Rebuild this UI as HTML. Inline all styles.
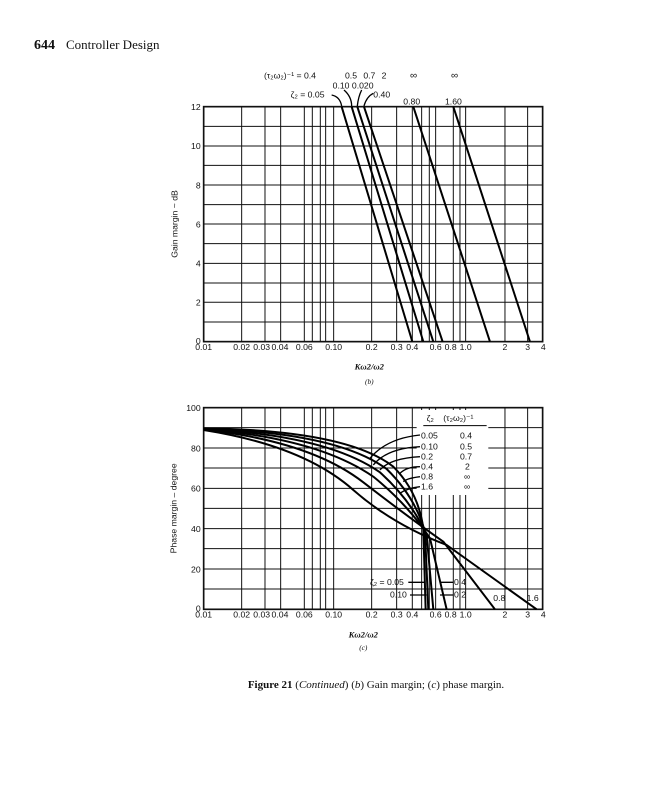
<!DOCTYPE html>
<html><head><meta charset="utf-8"><style>
body{margin:0;background:#fff;width:647px;height:800px;overflow:hidden}
svg{display:block}
text{font-family:"Liberation Sans",sans-serif;fill:#111}
.s{font-family:"Liberation Serif",serif}
</style></head><body>
<svg width="647" height="800" viewBox="0 0 647 800">
<text x="34" y="49" class="s" font-size="14" font-weight="bold">644</text>
<text x="66" y="49" class="s" font-size="13">Controller Design</text>

<!-- TOP CHART -->
<g transform="translate(160,60) scale(0.3333)">
 <g stroke="#111" stroke-width="3" fill="none">
  <rect x="131" y="140" width="1017" height="705" stroke-width="5"/>
  <path d="M131,199H1148M131,258H1148M131,316H1148M131,375H1148M131,434H1148M131,492H1148M131,551H1148M131,610H1148M131,669H1148M131,727H1148M131,786H1148"/>
  <path d="M245,140V845M315,140V845M362,140V845M433,140V845M457,140V845M481,140V845M497,140V845M521,140V845M635,140V845M710,140V845M757,140V845M785,140V845M808,140V845M827,140V845M880,140V845M900,140V845M917,140V845M1035,140V845M1103,140V845"/>
 </g>
 <g stroke="#000" stroke-width="6" fill="none">
  <path d="M545,140L757,845M575,140L790,845M592,140L820,845M612,140L848,845M760,140L990,845M880,140L1110,845"/>
  <path d="M515,105 Q540,110 545,138M552,90 Q575,110 575,138M605,90 Q595,110 592,138M640,100 Q620,110 612,138" stroke-width="4"/>
 </g>
 <g font-size="26">
  <text x="312" y="55">(τ₂ω₂)⁻¹ = 0.4</text><text x="555" y="55">0.5</text><text x="610" y="55">0.7</text><text x="665" y="55">2</text><text x="750" y="55" font-size="30">∞</text><text x="873" y="55" font-size="30">∞</text>
  <text x="518" y="85">0.10 0.020</text>
  <text x="392" y="112">ζ₂ = 0.05</text>
  <text x="640" y="112">0.40</text>
  <text x="730" y="133">0.80</text>
  <text x="855" y="133">1.60</text>
  <g text-anchor="end"><text x="122" y="150">12</text><text x="122" y="267">10</text><text x="122" y="385">8</text><text x="122" y="502">6</text><text x="122" y="620">4</text><text x="122" y="737">2</text><text x="122" y="852">0</text></g>
  <g text-anchor="middle"><text x="131" y="870">0.01</text><text x="245" y="870">0.02</text><text x="305" y="870">0.03</text><text x="360" y="870">0.04</text><text x="433" y="870">0.06</text><text x="521" y="870">0.10</text><text x="635" y="870">0.2</text><text x="710" y="870">0.3</text><text x="757" y="870">0.4</text><text x="827" y="870">0.6</text><text x="872" y="870">0.8</text><text x="917" y="870">1.0</text><text x="1035" y="870">2</text><text x="1103" y="870">3</text><text x="1150" y="870">4</text></g>
  <text x="628" y="928" text-anchor="middle" class="s" font-style="italic" font-weight="bold">Kω2/ω2</text>
  <text x="628" y="972" text-anchor="middle" class="s" font-style="italic" font-size="22">(b)</text>
  <text transform="translate(52,492) rotate(-90)" text-anchor="middle">Gain margin ~ dB</text>
 </g>
</g>

<!-- BOTTOM CHART -->
<g transform="translate(160,395) scale(0.3333)">
 <g stroke="#111" stroke-width="3" fill="none">
  <rect x="131" y="38" width="1017" height="605" stroke-width="5"/>
  <path d="M131,98H1148M131,159H1148M131,219H1148M131,280H1148M131,340H1148M131,401H1148M131,461H1148M131,522H1148M131,582H1148"/>
  <path d="M245,38V643M315,38V643M362,38V643M433,38V643M457,38V643M481,38V643M497,38V643M521,38V643M635,38V643M710,38V643M757,38V643M785,38V643M808,38V643M827,38V643M880,38V643M900,38V643M917,38V643M1035,38V643M1103,38V643"/>
 </g>
 <rect x="770" y="45" width="215" height="255" fill="#fff"/>
 <g stroke="#000" stroke-width="6" fill="none">
  <path d="M131,100 Q560,105 700,215 Q775,290 790,400 L797,643"/>
  <path d="M131,101 Q530,112 680,222 Q765,305 795,410 L805,643"/>
  <path d="M131,102 Q500,120 660,232 Q755,318 800,420 L820,643"/>
  <path d="M131,103 Q470,128 640,245 Q745,330 810,430 L860,643"/>
  <path d="M131,104 Q450,138 610,262 Q750,370 850,440 L1005,643"/>
  <path d="M131,105 Q430,152 580,285 Q700,390 860,450 L1130,643"/>
  <path d="M780,120 Q680,130 630,190M780,155 Q680,160 640,210M780,185 Q690,190 660,225M780,215 Q740,215 720,235M780,245 Q740,250 730,260M780,275 Q740,280 720,295" stroke-width="4"/>
  <path d="M745,562H795M750,600H800M880,562H840M880,600H840" stroke-width="4"/>
 </g>
 <g font-size="26">
  <text x="800" y="78">ζ₂</text><text x="850" y="78">(τ₂ω₂)⁻¹</text>
  <path d="M790,92H980" stroke="#000" stroke-width="3"/>
  <text x="783" y="130">0.05</text><text x="900" y="130">0.4</text>
  <text x="783" y="163">0.10</text><text x="900" y="163">0.5</text>
  <text x="783" y="193">0.2</text><text x="900" y="193">0.7</text>
  <text x="783" y="223">0.4</text><text x="915" y="223">2</text>
  <text x="783" y="253">0.8</text><text x="912" y="253">∞</text>
  <text x="783" y="283">1.6</text><text x="912" y="283">∞</text>
  <text x="630" y="570">ζ₂ = 0.05</text><text x="690" y="608">0.10</text>
  <text x="882" y="570">0.4</text><text x="882" y="608">0.2</text>
  <text x="1000" y="618">0.8</text><text x="1100" y="618">1.6</text>
  <g text-anchor="end"><text x="122" y="48">100</text><text x="122" y="169">80</text><text x="122" y="290">60</text><text x="122" y="411">40</text><text x="122" y="532">20</text><text x="122" y="650">0</text></g>
  <g text-anchor="middle"><text x="131" y="668">0.01</text><text x="245" y="668">0.02</text><text x="305" y="668">0.03</text><text x="360" y="668">0.04</text><text x="433" y="668">0.06</text><text x="521" y="668">0.10</text><text x="635" y="668">0.2</text><text x="710" y="668">0.3</text><text x="757" y="668">0.4</text><text x="827" y="668">0.6</text><text x="872" y="668">0.8</text><text x="917" y="668">1.0</text><text x="1035" y="668">2</text><text x="1103" y="668">3</text><text x="1150" y="668">4</text></g>
  <text x="610" y="728" text-anchor="middle" class="s" font-style="italic" font-weight="bold">Kω2/ω2</text>
  <text x="610" y="765" text-anchor="middle" class="s" font-style="italic" font-size="22">(c)</text>
  <text transform="translate(50,340) rotate(-90)" text-anchor="middle">Phase margin – degree</text>
 </g>
</g>
<text x="376" y="688" text-anchor="middle" class="s" font-size="11"><tspan font-weight="bold">Figure 21</tspan>   (<tspan font-style="italic">Continued</tspan>) (<tspan font-style="italic">b</tspan>) Gain margin; (<tspan font-style="italic">c</tspan>) phase margin.</text>
</svg>
</body></html>
